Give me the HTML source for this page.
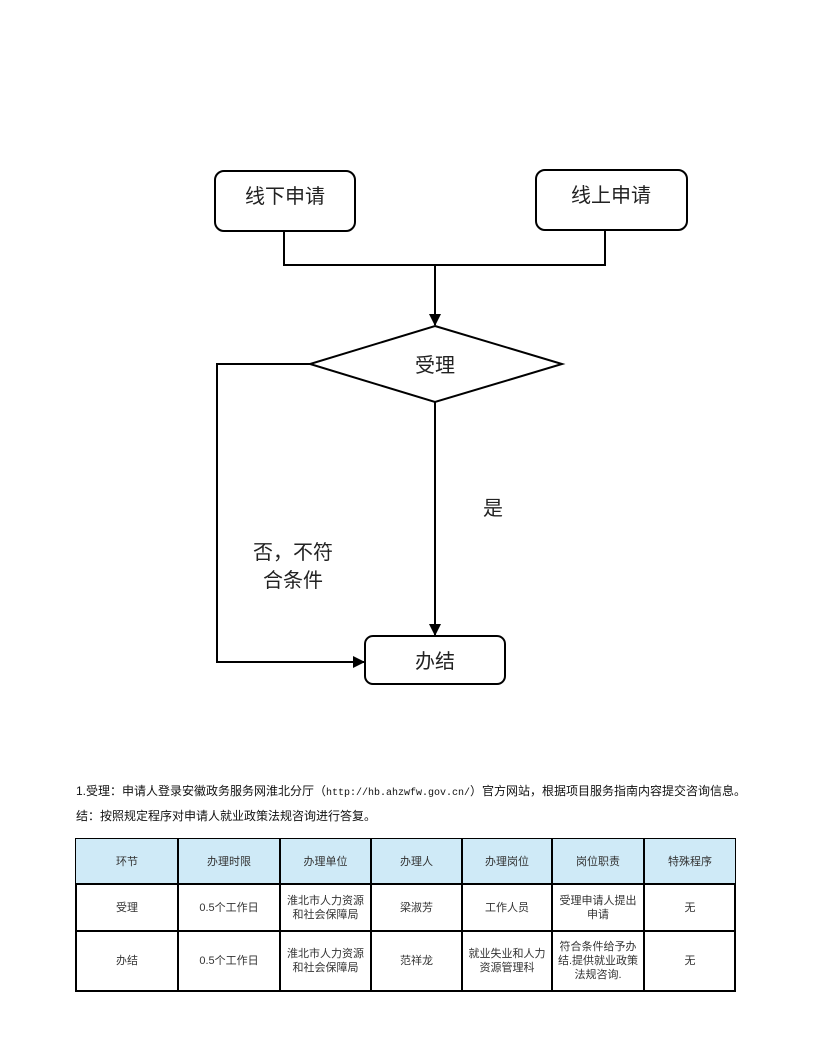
<!DOCTYPE html>
<html><head><meta charset="utf-8"><style>
body{margin:0;width:815px;height:1055px;background:#fff;position:relative;font-family:"Liberation Sans","Noto Sans CJK SC",sans-serif;overflow:hidden}
.t{position:absolute;white-space:nowrap;color:#111}
.c{position:absolute;display:flex;align-items:center;justify-content:center;text-align:center;font-size:11px;line-height:14px;color:#333;box-sizing:border-box}
</style></head><body>
<svg width="815" height="1055" style="position:absolute;left:0;top:0" xmlns="http://www.w3.org/2000/svg">
<defs><marker id="a" markerWidth="12" markerHeight="12" refX="11" refY="6" orient="auto" markerUnits="userSpaceOnUse"><path d="M0,0 L12,6 L0,12 z" fill="#000"/></marker></defs>
<g fill="none" stroke="#000" stroke-width="2">
<rect x="215" y="171" width="140" height="60" rx="9"/>
<rect x="536" y="170" width="151" height="60" rx="9"/>
<polyline points="284,231 284,265 605,265 605,230"/>
<line x1="435" y1="265" x2="435" y2="325" marker-end="url(#a)"/>
<polygon points="435,326 562,364 435,402 310,364"/>
<polyline points="310,364 217,364 217,662 364,662" marker-end="url(#a)"/>
<line x1="435" y1="402" x2="435" y2="635" marker-end="url(#a)"/>
<rect x="365" y="636" width="140" height="48" rx="8"/>
</g>
<g font-family="Liberation Sans,Noto Sans CJK SC,sans-serif" font-size="20" fill="#222" text-anchor="middle">
<text x="285" y="203">线下申请</text>
<text x="611" y="202">线上申请</text>
<text x="435" y="372">受理</text>
<text x="435" y="668">办结</text>
<text x="493" y="515">是</text>
<text x="293" y="559">否，不符</text>
<text x="293" y="587">合条件</text>
</g>
</svg>
<div class="t" style="left:76px;top:782px;font-size:12px">1.受理：申请人登录安徽政务服务网淮北分厅（<span style="font-family:'Liberation Mono',monospace;font-size:10px">http://hb.ahzwfw.gov.cn/</span>）官方网站，根据项目服务指南内容提交咨询信息。</div>
<div class="t" style="left:76px;top:807px;font-size:12px">结：按照规定程序对申请人就业政策法规咨询进行答复。</div>
<div style="position:absolute;left:75px;top:838px;width:661px;height:154px;border:2px solid #000;box-sizing:border-box"></div>
<div style="position:absolute;left:76px;top:839px;width:659px;height:44px;background:#cfeaf7"></div>
<div style="position:absolute;left:75px;top:883px;width:661px;height:2px;background:#000"></div>
<div style="position:absolute;left:75px;top:930px;width:661px;height:2px;background:#000"></div>
<div style="position:absolute;left:177px;top:838px;width:2px;height:154px;background:#000"></div>
<div style="position:absolute;left:279px;top:838px;width:2px;height:154px;background:#000"></div>
<div style="position:absolute;left:370px;top:838px;width:2px;height:154px;background:#000"></div>
<div style="position:absolute;left:461px;top:838px;width:2px;height:154px;background:#000"></div>
<div style="position:absolute;left:551px;top:838px;width:2px;height:154px;background:#000"></div>
<div style="position:absolute;left:643px;top:838px;width:2px;height:154px;background:#000"></div>
<div class="c" style="left:77px;top:840px;width:100px;height:43px">环节</div>
<div class="c" style="left:179px;top:840px;width:100px;height:43px">办理时限</div>
<div class="c" style="left:281px;top:840px;width:89px;height:43px">办理单位</div>
<div class="c" style="left:372px;top:840px;width:89px;height:43px">办理人</div>
<div class="c" style="left:463px;top:840px;width:88px;height:43px">办理岗位</div>
<div class="c" style="left:553px;top:840px;width:90px;height:43px">岗位职责</div>
<div class="c" style="left:645px;top:840px;width:90px;height:43px">特殊程序</div>
<div class="c" style="left:77px;top:885px;width:100px;height:45px">受理</div>
<div class="c" style="left:179px;top:885px;width:100px;height:45px">0.5个工作日</div>
<div class="c" style="left:281px;top:885px;width:89px;height:45px">淮北市人力资源<br>和社会保障局</div>
<div class="c" style="left:372px;top:885px;width:89px;height:45px">梁淑芳</div>
<div class="c" style="left:463px;top:885px;width:88px;height:45px">工作人员</div>
<div class="c" style="left:553px;top:885px;width:90px;height:45px">受理申请人提出<br>申请</div>
<div class="c" style="left:645px;top:885px;width:90px;height:45px">无</div>
<div class="c" style="left:77px;top:932px;width:100px;height:58px">办结</div>
<div class="c" style="left:179px;top:932px;width:100px;height:58px">0.5个工作日</div>
<div class="c" style="left:281px;top:932px;width:89px;height:58px">淮北市人力资源<br>和社会保障局</div>
<div class="c" style="left:372px;top:932px;width:89px;height:58px">范祥龙</div>
<div class="c" style="left:463px;top:932px;width:88px;height:58px">就业失业和人力<br>资源管理科</div>
<div class="c" style="left:553px;top:932px;width:90px;height:58px">符合条件给予办<br>结.提供就业政策<br>法规咨询.</div>
<div class="c" style="left:645px;top:932px;width:90px;height:58px">无</div>
</body></html>
